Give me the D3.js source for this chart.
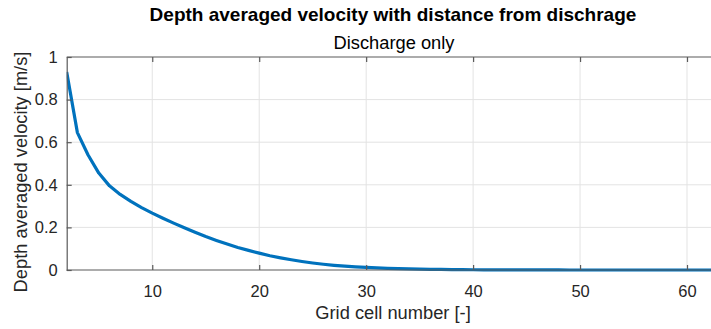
<!DOCTYPE html>
<html>
<head>
<meta charset="utf-8">
<script src="https://cdn.jsdelivr.net/npm/d3@7"></script>
<style>
  html, body { margin: 0; padding: 0; background: #fff; }
  svg { display: block; font-family: "Liberation Sans", Arial, Helvetica, sans-serif; }
</style>
</head>
<body>
<svg id="chart" width="711" height="329"></svg>
<script>
// Grid cell index along the domain
const cells = d3.range(2, 71);
// Depth averaged velocity [m/s] per cell
const velocity = [
  0.930, 0.645, 0.540, 0.455, 0.395, 0.355, 0.322, 0.293, 0.267, 0.243,
  0.220, 0.198, 0.177, 0.157, 0.139, 0.122, 0.106, 0.092, 0.079, 0.067,
  0.057, 0.048, 0.040, 0.033, 0.027, 0.022, 0.018, 0.015, 0.012, 0.010,
  0.008, 0.006, 0.005, 0.004, 0.003, 0.0025, 0.002, 0.0015, 0.0012, 0.001,
  0.0008, 0.0006, 0.0005, 0.0004, 0.0003, 0.0002, 0.0002, 0.0001, 0.0001, 0.0001,
  0.0001, 0.0001, 0, 0, 0, 0, 0, 0, 0, 0,
  0, 0, 0, 0, 0, 0, 0, 0, 0
];
const xTicks = [10, 20, 30, 40, 50, 60];
const yTicks = [0, 0.2, 0.4, 0.6, 0.8, 1];
const titleText = "Depth averaged velocity with distance from dischrage";
const subtitleText = "Discharge only";
const xLabel = "Grid cell number [-]";
const yLabel = "Depth averaged velocity [m/s]";

const svg = d3.select("#chart");
const mLeft = 66.7, mRight = 710, mTop = 57, mBottom = 270;

const x = d3.scaleLinear().domain([2, 62.15]).range([mLeft, mRight]);
const y = d3.scaleLinear().domain([0, 1]).range([mBottom, mTop]);

const axisColor = "#5a5a5a";
const textColor = "#262626";
const tickFont = 16.5;
const labelFont = 18.3;

// grid lines
svg.append("g").selectAll("line").data(xTicks).join("line")
  .attr("x1", d => x(d)).attr("x2", d => x(d))
  .attr("y1", mTop).attr("y2", mBottom)
  .attr("stroke", "#e3e3e3").attr("stroke-width", 1);
svg.append("g").selectAll("line").data(yTicks.filter(d => d > 0 && d < 1)).join("line")
  .attr("x1", mLeft).attr("x2", 711)
  .attr("y1", d => y(d)).attr("y2", d => y(d))
  .attr("stroke", "#e3e3e3").attr("stroke-width", 1);

// data line
svg.append("clipPath").attr("id", "plotclip")
  .append("rect").attr("x", mLeft).attr("y", mTop - 2).attr("width", 800).attr("height", mBottom - mTop + 4);
const line = d3.line().x((d, i) => x(cells[i])).y(d => y(d));
svg.append("path")
  .datum(velocity)
  .attr("clip-path", "url(#plotclip)")
  .attr("d", line)
  .attr("fill", "none")
  .attr("stroke", "#0072BD")
  .attr("stroke-width", 3.2)
  .attr("stroke-linejoin", "round");

// axes
const xAxis = d3.axisBottom(x).tickValues(xTicks).tickSizeInner(-5).tickSizeOuter(0);
const gx = svg.append("g").attr("transform", `translate(0,${mBottom})`).call(xAxis);
const xTop = d3.axisTop(x).tickValues(xTicks).tickSizeInner(-5).tickSizeOuter(0).tickFormat("");
const gxt = svg.append("g").attr("transform", `translate(0,${mTop})`).call(xTop);
const yAxis = d3.axisLeft(y).tickValues(yTicks).tickSizeInner(-5).tickSizeOuter(0).tickPadding(9)
  .tickFormat(d => d === 0 || d === 1 ? d3.format("d")(d) : d3.format(".1f")(d));
const gy = svg.append("g").attr("transform", `translate(${mLeft},0)`).call(yAxis);

[gx, gxt, gy].forEach(g => {
  g.select(".domain").attr("stroke", axisColor).attr("stroke-width", 1.2);
  g.selectAll(".tick line").attr("stroke", axisColor).attr("stroke-width", 1.2);
  g.selectAll(".tick text").attr("fill", textColor).attr("font-size", tickFont)
    .attr("font-family", "'Liberation Sans', Arial, sans-serif");
});
gx.selectAll(".tick text").attr("y", 27).attr("dy", 0);
gx.select(".domain").attr("d", `M${mLeft},0H711`);
gxt.select(".domain").attr("d", `M${mLeft},0H711`);

// titles
svg.append("text").attr("x", 393).attr("y", 21).attr("text-anchor", "middle")
  .attr("font-size", 19).attr("font-weight", "bold").attr("fill", "#000").text(titleText);
svg.append("text").attr("x", 394).attr("y", 48.5).attr("text-anchor", "middle")
  .attr("font-size", labelFont).attr("fill", "#000").text(subtitleText);

// axis labels
svg.append("text").attr("x", 393).attr("y", 319).attr("text-anchor", "middle")
  .attr("font-size", labelFont).attr("fill", textColor).text(xLabel);
svg.append("text").attr("transform", "translate(27,172) rotate(-90)").attr("text-anchor", "middle")
  .attr("font-size", labelFont).attr("fill", textColor).text(yLabel);
</script>
</body>
</html>
